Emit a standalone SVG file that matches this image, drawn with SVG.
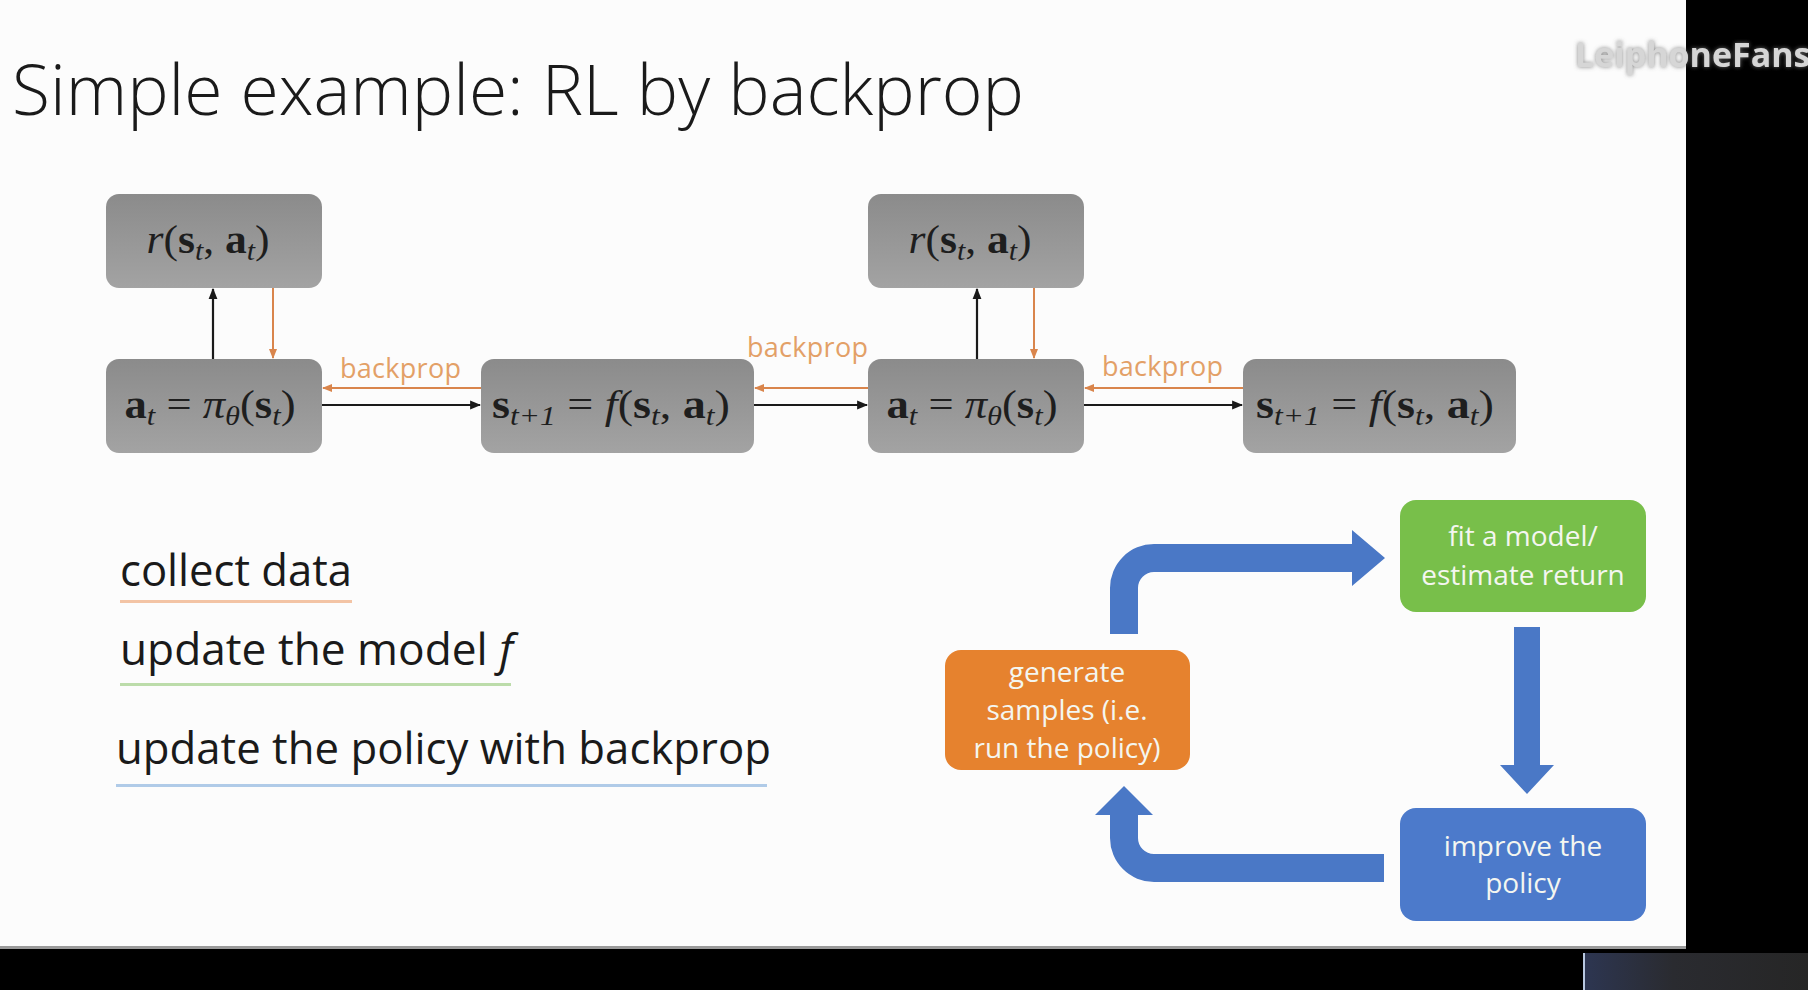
<svg xmlns="http://www.w3.org/2000/svg" width="1808" height="990" viewBox="0 0 1808 990">
  <style>
    .title { font-family: "Open Sans", "Liberation Sans", sans-serif; font-weight: 300; font-size: 70px; fill: #1a1a1a; }
    .math { font-family: "Liberation Serif", "DejaVu Serif", serif; font-size: 41px; fill: #1e1e1e; text-anchor: middle; }
    .b { font-weight: bold; }
    .i { font-style: italic; }
    .sub { font-size: 28px; font-style: italic; }
    .bp { font-family: "Open Sans", "Liberation Sans", sans-serif; font-size: 27px; fill: #e3a067; }
    .item { font-family: "Open Sans", "Liberation Sans", sans-serif; font-size: 44px; fill: #1a1a1a; }
    .cyc { font-family: "Open Sans", "Liberation Sans", sans-serif; font-size: 28px; fill: #f4f6f0; text-anchor: middle; }
    .gbox { fill: url(#grey); }
    .blk { stroke: #1a1a1a; stroke-width: 2.2; fill: none; }
    .org { stroke: #d9854c; stroke-width: 2; fill: none; }
    .flow { fill: #4a78c6; }
  </style>
  <defs>
    <linearGradient id="grey" x1="0" y1="0" x2="0" y2="1">
      <stop offset="0" stop-color="#8b8b8b"/>
      <stop offset="1" stop-color="#a3a3a3"/>
    </linearGradient>
    <linearGradient id="pip" x1="0" y1="0" x2="1" y2="0">
      <stop offset="0" stop-color="#2d3652"/>
      <stop offset="0.4" stop-color="#2a2b30"/>
      <stop offset="1" stop-color="#262626"/>
    </linearGradient>
    <marker id="ab" viewBox="0 0 10 10" refX="9" refY="5" markerWidth="5" markerHeight="5" orient="auto" markerUnits="strokeWidth">
      <path d="M0,1 L10,5 L0,9 z" fill="#1a1a1a"/>
    </marker>
    <marker id="ao" viewBox="0 0 10 10" refX="9" refY="5" markerWidth="5" markerHeight="5" orient="auto" markerUnits="strokeWidth">
      <path d="M0,1 L10,5 L0,9 z" fill="#d9854c"/>
    </marker>
    <filter id="glow" x="-10%" y="-30%" width="120%" height="160%">
      <feDropShadow dx="0" dy="0" stdDeviation="2" flood-color="#777777" flood-opacity="0.9"/>
    </filter>
  </defs>

  <!-- frame -->
  <rect x="0" y="0" width="1808" height="990" fill="#000"/>
  <rect x="0" y="0" width="1686" height="948" fill="#fcfcfc"/>
  <rect x="0" y="946" width="1686" height="3" fill="#9a9a9a"/>
  <rect x="1583" y="953" width="225" height="37" fill="url(#pip)"/>
  <rect x="1583" y="953" width="2" height="37" fill="#b8c8e0"/>

  <text class="title" x="12" y="115" textLength="1012" lengthAdjust="spacingAndGlyphs">Simple example: RL by backprop</text>

  <!-- computation graph nodes -->
  <g id="reward1">
    <rect class="gbox" x="106" y="194" width="216" height="94" rx="13"/>
    <text class="math" x="208" y="253" textLength="123" lengthAdjust="spacingAndGlyphs"><tspan class="i">r</tspan>(<tspan class="b">s</tspan><tspan class="sub" dy="7">t</tspan><tspan dy="-7">, </tspan><tspan class="b">a</tspan><tspan class="sub" dy="7">t</tspan><tspan dy="-7">)</tspan></text>
  </g>
  <g id="policy1">
    <rect class="gbox" x="106" y="359" width="216" height="94" rx="13"/>
    <text class="math" x="210" y="418" textLength="171" lengthAdjust="spacingAndGlyphs"><tspan class="b">a</tspan><tspan class="sub" dy="7">t</tspan><tspan dy="-7"> = </tspan><tspan class="i">π</tspan><tspan class="sub" dy="7">θ</tspan><tspan dy="-7">(</tspan><tspan class="b">s</tspan><tspan class="sub" dy="7">t</tspan><tspan dy="-7">)</tspan></text>
  </g>
  <g id="dynamics1">
    <rect class="gbox" x="481" y="359" width="273" height="94" rx="13"/>
    <text class="math" x="611" y="418" textLength="238" lengthAdjust="spacingAndGlyphs"><tspan class="b">s</tspan><tspan class="sub" dy="7">t+1</tspan><tspan dy="-7"> = </tspan><tspan class="i">f</tspan>(<tspan class="b">s</tspan><tspan class="sub" dy="7">t</tspan><tspan dy="-7">, </tspan><tspan class="b">a</tspan><tspan class="sub" dy="7">t</tspan><tspan dy="-7">)</tspan></text>
  </g>
  <g id="reward2">
    <rect class="gbox" x="868" y="194" width="216" height="94" rx="13"/>
    <text class="math" x="970" y="253" textLength="123" lengthAdjust="spacingAndGlyphs"><tspan class="i">r</tspan>(<tspan class="b">s</tspan><tspan class="sub" dy="7">t</tspan><tspan dy="-7">, </tspan><tspan class="b">a</tspan><tspan class="sub" dy="7">t</tspan><tspan dy="-7">)</tspan></text>
  </g>
  <g id="policy2">
    <rect class="gbox" x="868" y="359" width="216" height="94" rx="13"/>
    <text class="math" x="972" y="418" textLength="171" lengthAdjust="spacingAndGlyphs"><tspan class="b">a</tspan><tspan class="sub" dy="7">t</tspan><tspan dy="-7"> = </tspan><tspan class="i">π</tspan><tspan class="sub" dy="7">θ</tspan><tspan dy="-7">(</tspan><tspan class="b">s</tspan><tspan class="sub" dy="7">t</tspan><tspan dy="-7">)</tspan></text>
  </g>
  <g id="dynamics2">
    <rect class="gbox" x="1243" y="359" width="273" height="94" rx="13"/>
    <text class="math" x="1375" y="418" textLength="238" lengthAdjust="spacingAndGlyphs"><tspan class="b">s</tspan><tspan class="sub" dy="7">t+1</tspan><tspan dy="-7"> = </tspan><tspan class="i">f</tspan>(<tspan class="b">s</tspan><tspan class="sub" dy="7">t</tspan><tspan dy="-7">, </tspan><tspan class="b">a</tspan><tspan class="sub" dy="7">t</tspan><tspan dy="-7">)</tspan></text>
  </g>

  <!-- forward and backprop connectors -->
  <g id="connectors">
    <line class="blk" x1="213" y1="359" x2="213" y2="289" marker-end="url(#ab)"/>
    <line class="org" x1="273" y1="288" x2="273" y2="358" marker-end="url(#ao)"/>
    <line class="blk" x1="977" y1="359" x2="977" y2="289" marker-end="url(#ab)"/>
    <line class="org" x1="1034" y1="288" x2="1034" y2="358" marker-end="url(#ao)"/>

    <line class="blk" x1="322" y1="405" x2="480" y2="405" marker-end="url(#ab)"/>
    <line class="blk" x1="754" y1="405" x2="867" y2="405" marker-end="url(#ab)"/>
    <line class="blk" x1="1084" y1="405" x2="1242" y2="405" marker-end="url(#ab)"/>

    <line class="org" x1="481" y1="388" x2="323" y2="388" marker-end="url(#ao)"/>
    <line class="org" x1="868" y1="388" x2="755" y2="388" marker-end="url(#ao)"/>
    <line class="org" x1="1243" y1="388" x2="1085" y2="388" marker-end="url(#ao)"/>

    <text class="bp" x="340" y="378" textLength="121">backprop</text>
    <text class="bp" x="747" y="357" textLength="121">backprop</text>
    <text class="bp" x="1102" y="376" textLength="121">backprop</text>
  </g>

  <!-- legend -->
  <g id="legend">
    <text class="item" x="120" y="586" textLength="232" lengthAdjust="spacingAndGlyphs">collect data</text>
    <rect x="120" y="600" width="232" height="3" fill="#f3c4a5"/>
    <text class="item" x="120" y="665" textLength="393" lengthAdjust="spacingAndGlyphs">update the model <tspan font-style="italic">f</tspan></text>
    <rect x="120" y="683" width="391" height="3" fill="#bcdcaa"/>
    <text class="item" x="116" y="764" textLength="655" lengthAdjust="spacingAndGlyphs">update the policy with backprop</text>
    <rect x="116" y="784" width="651" height="3" fill="#b0cbe8"/>
  </g>

  <!-- RL cycle -->
  <g id="fit-model">
    <rect x="1400" y="500" width="246" height="112" rx="16" fill="#78bf4a"/>
    <text class="cyc" x="1523" y="546">fit a model/</text>
    <text class="cyc" x="1523" y="585">estimate return</text>
  </g>
  <g id="generate-samples">
    <rect x="945" y="650" width="245" height="120" rx="16" fill="#e6822e"/>
    <text class="cyc" x="1067" y="682">generate</text>
    <text class="cyc" x="1067" y="720">samples (i.e.</text>
    <text class="cyc" x="1067" y="758">run the policy)</text>
  </g>
  <g id="improve-policy">
    <rect x="1400" y="808" width="246" height="113" rx="16" fill="#4c7acb"/>
    <text class="cyc" x="1523" y="856">improve the</text>
    <text class="cyc" x="1523" y="893">policy</text>
  </g>

  <g id="cycle-arrows">
    <path class="flow" d="M1110,634 L1110,588 A44,44 0 0 1 1154,544 L1352,544 L1352,530 L1385,558 L1352,586 L1352,572 L1154,572 A16,16 0 0 0 1138,588 L1138,634 Z"/>
    <path class="flow" d="M1514,627 L1540,627 L1540,765 L1554,765 L1527,794 L1500,765 L1514,765 Z"/>
    <path class="flow" d="M1384,854 L1154,854 A16,16 0 0 1 1138,838 L1138,815 L1153,815 L1124,786 L1095,815 L1110,815 L1110,838 A44,44 0 0 0 1154,882 L1384,882 Z"/>
  </g>

  <text x="1575" y="67" font-family="Open Sans, Liberation Sans, sans-serif" font-weight="bold" font-size="34" fill="#d6d6d6" filter="url(#glow)">LeiphoneFans</text>
</svg>
